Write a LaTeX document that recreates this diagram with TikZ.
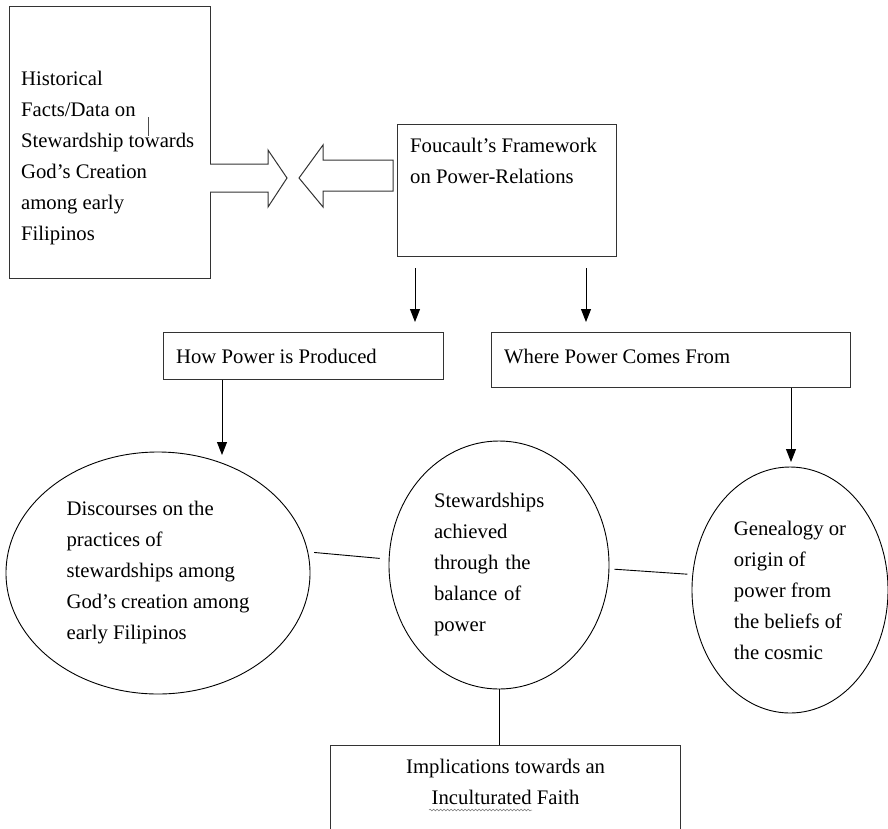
\documentclass[tikz,border=0pt]{standalone}
\usepackage{fontspec}
\setmainfont{Liberation Serif}
\usetikzlibrary{positioning,shapes.geometric,arrows.meta,decorations.pathmorphing}
\tikzset{
    frame-box/.style = {draw=black!80, line width=1.2pt, rectangle, inner sep=0pt},
    frame-text/.style = {align=left, inner sep=0pt, font=\fontsize{20.7}{31}\selectfont},
    oval-box/.style = {draw, ellipse, line width=0.9pt, inner sep=0pt, align=left, font=\fontsize{20.7}{31}\selectfont},
    fat-arrow/.style = {draw=black!80, line width=1pt, fill=white},
    down-arrow/.style = {draw, line width=0.9pt, -{Triangle[length=13pt,width=10pt]}},
    plain-link/.style = {draw, line width=0.9pt},
    spell-wave/.style = {draw=black!55, line width=0.5pt, decorate, decoration={snake, amplitude=0.9pt, segment length=3.5pt}},
}

\begin{document}
\begin{tikzpicture}[x=1pt, y=-1pt]
\useasboundingbox (0,0) rectangle (888,828);
\clip (0,0) rectangle (888,828);

\node[frame-box, minimum width=201pt, minimum height=272pt, anchor=north west] (history) at (9,6) {};
\node[frame-text, below right=65pt and 12pt of history.north west] (history-text) {Historical\\Facts/Data on\\Stewardship towards\\God’s Creation\\among early\\Filipinos};
\draw[line width=0.6pt, black!70] (148,117) -- (148,136);

\node[frame-box, minimum width=219pt, minimum height=132pt, anchor=north west] (foucault) at (397,124) {};
\node[frame-text, below right=14pt and 13pt of foucault.north west] (foucault-text) {Foucault’s Framework\\on Power-Relations};

\draw[fat-arrow] (210,164) -- (268,164) -- (268,150) -- (287,178) -- (268,207) -- (268,192) -- (210,192);
\draw[fat-arrow] (393,160) -- (323,160) -- (323,145) -- (299,178) -- (323,207) -- (323,191) -- (393,191) -- cycle;

\node[frame-box, minimum width=280pt, minimum height=47pt, anchor=north west] (produced) at (163,332) {};
\node[frame-text, right=13pt of produced.west] (produced-text) {How Power is Produced};
\node[frame-box, minimum width=359pt, minimum height=55pt, anchor=north west] (where) at (491,332) {};
\node[frame-text, right=13pt of where.west, yshift=4pt] (where-text) {Where Power Comes From};

\coordinate (split-left) at (415,268);
\coordinate (split-right) at (586,268);
\draw[down-arrow, shorten >=10pt] (split-left) -- (split-left |- produced.north);
\draw[down-arrow, shorten >=10pt] (split-right) -- (split-right |- where.north);

\node[oval-box, minimum width=304pt, minimum height=242pt] (discourse) at (158,573) {Discourses on the\\practices of\\stewardships among\\God’s creation among\\early Filipinos};
\node[oval-box, minimum width=220pt, minimum height=248pt, text width=130pt] (balance) at (499,565) {Stewardships\\achieved\\through the\\balance of\\power};
\node[oval-box, minimum width=196pt, minimum height=246pt] (genealogy) at (790,590) {Genealogy or\\origin of\\power from\\the beliefs of\\the cosmic};

\coordinate (hit-discourse) at (222,455);
\coordinate (hit-genealogy) at (791,462);
\draw[down-arrow] (hit-discourse |- produced.south) -- (hit-discourse);
\draw[down-arrow] (hit-genealogy |- where.south) -- (hit-genealogy);

\draw[plain-link, shorten <=6pt, shorten >=9pt] (discourse.8) -- (balance.177);
\draw[plain-link, shorten <=5pt, shorten >=5pt] (balance.-2) -- (genealogy.171);

\node[frame-box, minimum width=350pt, minimum height=120pt, anchor=north west] (implication) at (330,745) {};
\node[frame-text, align=center, below=14pt of implication.north] (implication-text) {Implications towards an\\Inculturated Faith};
\draw[spell-wave] (429,810) -- (532,810);
\draw[plain-link] (balance.south) -- (balance.south |- implication.north);
\end{tikzpicture}
\end{document}
